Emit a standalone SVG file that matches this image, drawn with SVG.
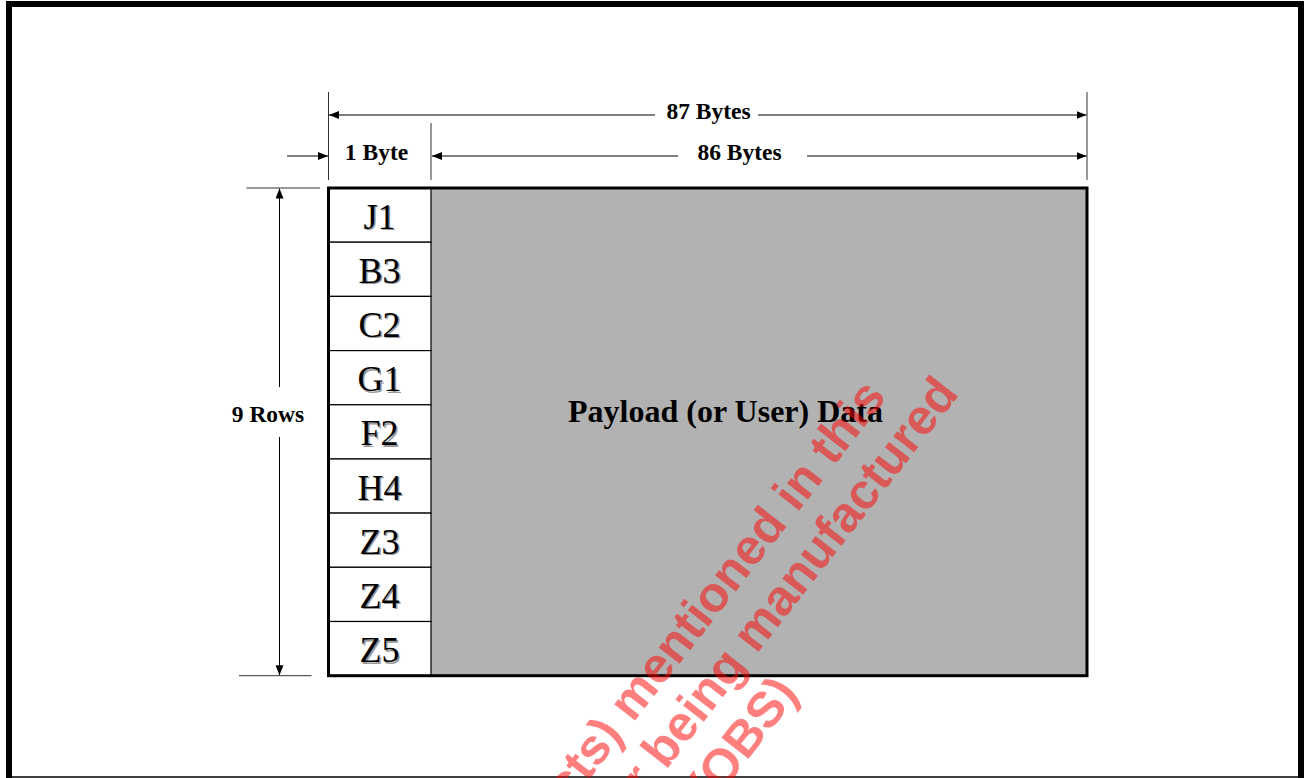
<svg xmlns="http://www.w3.org/2000/svg" width="1304" height="778" viewBox="0 0 1304 778">
<style>
.dim{stroke:#000;stroke-width:1;fill:none}
.ext{stroke:#333;stroke-width:1;fill:none}
.lbl{font-family:"Liberation Serif","Times New Roman",serif;font-weight:bold;font-size:23.5px;fill:#000;text-anchor:middle}
.cell{fill:#fff;stroke:#000;stroke-width:1.2}
.ct{font-family:"Liberation Serif","Times New Roman",serif;font-size:36px;text-anchor:middle}
.sh{fill:#9a9a9a}
.fg{fill:#000}
.wm{font-family:"Liberation Sans",Arial,sans-serif;font-weight:bold;font-size:50px;fill:#ff0000;fill-opacity:0.5;text-anchor:end}
</style>
<defs>
<marker id="ah" viewBox="0 0 10 8" refX="10" refY="4" markerWidth="10" markerHeight="8" markerUnits="userSpaceOnUse" orient="auto-start-reverse">
<path d="M0,0 L10,4 L0,8 z" fill="#000"/>
</marker>
</defs>
<rect width="1304" height="778" fill="#fff"/>
<g id="frame">
<path d="M9,778 V4 H1301 V778" fill="none" stroke="#000" stroke-width="6"/>
<line x1="6" y1="777" x2="1304" y2="777" stroke="#000" stroke-width="1.5"/>
</g>
<g id="payload">
<rect x="328.5" y="188" width="758.5" height="487.7" fill="#b2b2b2"/>
<text x="725.5" y="422" font-family="Liberation Serif,'Times New Roman',serif" font-weight="bold" font-size="32" text-anchor="middle">Payload (or User) Data</text>
</g>
<g id="overhead">
<rect class="cell" x="328.5" y="188" width="102.5" height="54.2"/>
<rect class="cell" x="328.5" y="242.2" width="102.5" height="54.2"/>
<rect class="cell" x="328.5" y="296.4" width="102.5" height="54.2"/>
<rect class="cell" x="328.5" y="350.6" width="102.5" height="54.2"/>
<rect class="cell" x="328.5" y="404.8" width="102.5" height="54.2"/>
<rect class="cell" x="328.5" y="459" width="102.5" height="54.1"/>
<rect class="cell" x="328.5" y="513.1" width="102.5" height="54.2"/>
<rect class="cell" x="328.5" y="567.3" width="102.5" height="54.2"/>
<rect class="cell" x="328.5" y="621.5" width="102.5" height="54.2"/>
<g class="ct sh" transform="translate(1.5,1.5)">
<text x="379.5" y="228.5">J1</text>
<text x="379.5" y="282.7">B3</text>
<text x="379.5" y="336.9">C2</text>
<text x="379.5" y="391.1">G1</text>
<text x="379.5" y="445.3">F2</text>
<text x="379.5" y="499.5">H4</text>
<text x="379.5" y="553.6">Z3</text>
<text x="379.5" y="607.8">Z4</text>
<text x="379.5" y="662">Z5</text>
</g>
<g class="ct fg">
<text x="379.5" y="228.5">J1</text>
<text x="379.5" y="282.7">B3</text>
<text x="379.5" y="336.9">C2</text>
<text x="379.5" y="391.1">G1</text>
<text x="379.5" y="445.3">F2</text>
<text x="379.5" y="499.5">H4</text>
<text x="379.5" y="553.6">Z3</text>
<text x="379.5" y="607.8">Z4</text>
<text x="379.5" y="662">Z5</text>
</g>
</g>
<g id="outline">
<rect x="328.5" y="188" width="758.5" height="487.7" fill="none" stroke="#000" stroke-width="3"/>
</g>
<g id="connectors">
<line class="ext" x1="328.5" y1="92" x2="328.5" y2="180"/>
<line class="ext" x1="431" y1="123" x2="431" y2="180"/>
<line class="ext" x1="1087" y1="92" x2="1087" y2="180"/>
<line class="ext" x1="246.5" y1="188" x2="320" y2="188"/>
<line class="ext" x1="239" y1="675.7" x2="311.5" y2="675.7"/>
<path class="dim" d="M655,115 H329" marker-end="url(#ah)"/>
<path class="dim" d="M758,115 H1086.5" marker-end="url(#ah)"/>
<path class="dim" d="M678,156 H432" marker-end="url(#ah)"/>
<path class="dim" d="M807,156 H1086.5" marker-end="url(#ah)"/>
<path class="dim" d="M287,156 H328" marker-end="url(#ah)"/>
<path class="dim" d="M279.5,387 V188.5" marker-end="url(#ah)"/>
<path class="dim" d="M279.5,437 V675.2" marker-end="url(#ah)"/>
</g>
<g id="labels">
<text class="lbl" x="708.5" y="119">87 Bytes</text>
<text class="lbl" x="376.5" y="160">1 Byte</text>
<text class="lbl" x="739.5" y="160">86 Bytes</text>
<text class="lbl" x="268" y="421.5">9 Rows</text>
</g>
<g id="watermark" transform="translate(960,394) rotate(-52)">
<text class="wm" x="-47" y="-55">cts) mentioned in this</text>
<text class="wm" x="0" y="0">r being manufactured</text>
<text class="wm" x="-335" y="58">(OBS)</text>
</g>
</svg>
